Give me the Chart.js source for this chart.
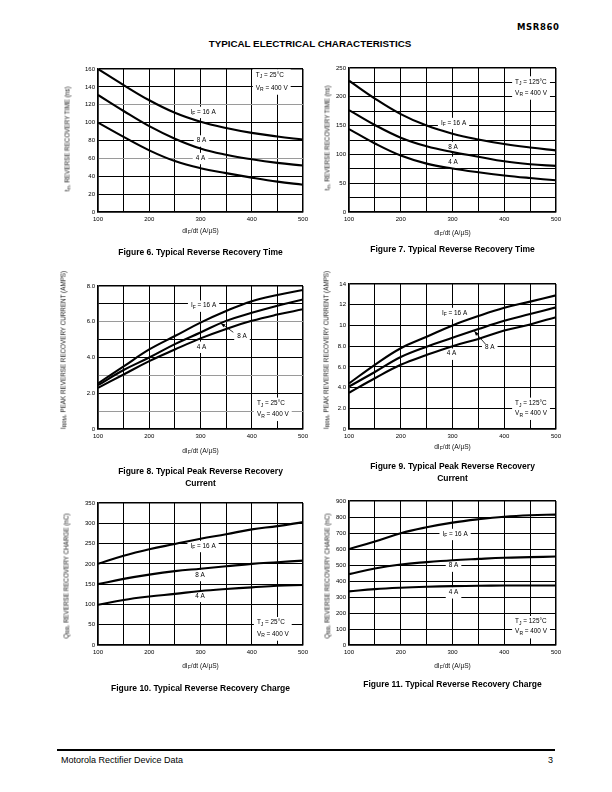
<!DOCTYPE html>
<html>
<head>
<meta charset="utf-8">
<title>MSR860 Typical Electrical Characteristics</title>
<script src="https://cdn.jsdelivr.net/npm/chart.js@4.4.1/dist/chart.umd.min.js"></script>
<style>
  html, body { margin: 0; padding: 0; background: #fff; }
  body { width: 612px; height: 792px; position: relative; overflow: hidden;
         font-family: 'Liberation Sans', Arial, Helvetica, sans-serif; color: #000; }
  .abs { position: absolute; white-space: nowrap; }
  canvas.plot { position: absolute; }
  sub { font-size: 78%; vertical-align: -0.25em; line-height: 0; }
  #part { left: 517px; top: 22px; font-family: 'DejaVu Sans', sans-serif; font-weight: bold;
          font-size: 8.5px; letter-spacing: 0.6px; }
  #heading { left: 310px; top: 38px; transform: translateX(-50%); font-weight: bold; font-size: 9.8px; }
  #rule { position: absolute; left: 57px; top: 749px; width: 498px; height: 2px; background: #000; }
  #foot-left { left: 61px; top: 755px; font-size: 9px; }
  #foot-page { left: 548px; top: 755px; font-size: 9px; }
  .ytitle { position: absolute; font-size: 6.3px; color: #111; white-space: nowrap;
            transform: translate(-50%, -50%) rotate(-90deg); }
  .xtitle { position: absolute; font-size: 6.6px; color: #111; white-space: nowrap;
            transform: translate(-50%, -50%); }
  .caption { position: absolute; font-weight: bold; font-size: 8.5px; line-height: 12px;
             text-align: center; white-space: nowrap; transform: translateX(-50%); }
</style>
</head>
<body>
<div class="abs" id="part">MSR860</div>
<div class="abs" id="heading">TYPICAL ELECTRICAL CHARACTERISTICS</div>
<div id="rule"></div>
<div class="abs" id="foot-left">Motorola Rectifier Device Data</div>
<div class="abs" id="foot-page">3</div>

<script>
// dIF/dt sample points (A/µs), shared by every figure
const diDt = [100, 150, 200, 250, 300, 350, 400, 450, 500];
const xTickLabels = ['100', '200', '300', '400', '500'];

// Fig 6: trr, TJ = 25°C
const trr25If16 = [160, 142, 125, 111, 101, 94, 88.5, 84.5, 81];
const trr25If8 = [131, 113, 96, 82, 71, 64, 59, 55, 52];
const trr25If4 = [100, 84, 69, 57, 49, 43.5, 38.5, 34, 30.5];
const trr25YLabels = ['0', '20', '40', '60', '80', '100', '120', '140', '160'];

// Fig 7: trr, TJ = 125°C
const trr125If16 = [228, 197, 170, 150, 136, 126, 118, 112, 107];
const trr125If8 = [177, 151, 129, 114, 104, 96, 88, 83, 80];
const trr125If4 = [144, 119, 98, 84, 75.5, 69, 63.5, 59, 55];
const trr125YLabels = ['0', '50', '100', '150', '200', '250'];

// Fig 8: IRRM, TJ = 25°C
const irrm25If16 = [2.55, 3.5, 4.45, 5.2, 5.95, 6.6, 7.15, 7.5, 7.78];
const irrm25If8 = [2.45, 3.3, 4.0, 4.75, 5.4, 6.05, 6.5, 6.9, 7.25];
const irrm25If4 = [2.3, 3.05, 3.8, 4.45, 5.07, 5.6, 6.05, 6.4, 6.7];
const irrm25YLabels = ['0', '2.0', '4.0', '6.0', '8.0'];

// Fig 9: IRRM, TJ = 125°C
const irrm125If16 = [4.4, 6.2, 7.8, 8.9, 10.0, 10.9, 11.7, 12.3, 12.9];
const irrm125If8 = [4.1, 5.5, 6.95, 7.95, 8.8, 9.65, 10.45, 11.1, 11.75];
const irrm125If4 = [3.5, 4.9, 6.2, 7.15, 8.0, 8.7, 9.5, 10.1, 10.8];
const irrm125YLabels = ['0', '2.0', '4.0', '6.0', '8.0', '10', '12', '14'];

// Fig 10: QRR, TJ = 25°C
const qrr25If16 = [200, 220, 236, 249, 262, 273, 285, 293, 303];
const qrr25If8 = [150, 163, 173.5, 182, 188, 194, 200, 204, 208];
const qrr25If4 = [99, 111, 119.5, 126, 133, 138, 142, 146, 148];
const qrr25YLabels = ['0', '50', '100', '150', '200', '250', '300', '350'];

// Fig 11: QRR, TJ = 125°C
const qrr125If16 = [599, 647, 699, 736, 765, 786, 802, 811, 815];
const qrr125If8 = [443, 478, 503, 518, 530, 538, 545, 549, 553];
const qrr125If4 = [335, 349, 358, 364, 368, 370, 372, 372, 372];
const qrr125YLabels = ['0', '100', '200', '300', '400', '500', '600', '700', '800', '900'];

const FAMILY = "'Liberation Sans', Arial, Helvetica, sans-serif";
const NOTE_SIZE = 6.4;
const TICK_SIZE = 6;
const X_TITLE = 'dI<sub>F</sub>/dt (A/µS)';
const TRR_TITLE = 't<sub>rr</sub>, REVERSE RECOVERY TIME (ns)';
const IRRM_TITLE = 'I<sub>RRM</sub>, PEAK REVERSE RECOVERY CURRENT (AMPS)';
const QRR_TITLE = 'Q<sub>RR</sub>, REVERSE RECOVERY CHARGE (nC)';

// area = plot box [left, top, right, bottom] on the page
const figures = [
  { area: [98, 69, 303, 212], series: [trr25If16, trr25If8, trr25If4],
    yMax: 160, yStep: 20, yLabels: trr25YLabels, grayRows: [60, 120],
    notes: [['I_F = 16 A', 305, 112], ['8 A', 302, 80], ['4 A', 300, 60.4]],
    cond: ['T_J = 25°C', 'V_R = 400 V', 408, 153.3, 138.7],
    yTitle: TRR_TITLE, yTitleAt: [67, 139], xTitleY: 230,
    caption: 'Figure 6. Typical Reverse Recovery Time', captionY: 252 },
  { area: [349, 68, 556, 212], series: [trr125If16, trr125If8, trr125If4],
    yMax: 250, yStep: 25, yLabels: trr125YLabels, grayRows: [],
    notes: [['I_F = 16 A', 302, 154.5], ['8 A', 301, 113], ['4 A', 301, 87]],
    cond: ['T_J = 125°C', 'V_R = 400 V', 421, 225.7, 206.6],
    yTitle: TRR_TITLE, yTitleAt: [327, 138], xTitleY: 232,
    caption: 'Figure 7. Typical Reverse Recovery Time', captionY: 249 },
  { area: [98, 286, 303, 429], series: [irrm25If16, irrm25If8, irrm25If4],
    yMax: 8, yStep: 1, yLabels: irrm25YLabels, grayRows: [1, 3, 6],
    notes: [['I_F = 16 A', 306, 6.9], ['8 A', 381, 5.2], ['4 A', 302, 4.6]],
    arrow: [364, 5.41, 339.5, 5.92],
    cond: ['T_J = 25°C', 'V_R = 400 V', 410, 1.44, 0.82],
    yTitle: IRRM_TITLE, yTitleAt: [63, 350], xTitleY: 450,
    caption: 'Figure 8. Typical Peak Reverse Recovery<br>Current', captionY: 471 },
  { area: [349, 284, 556, 429], series: [irrm125If16, irrm125If8, irrm125If4],
    yMax: 14, yStep: 2, yLabels: irrm125YLabels, grayRows: [],
    notes: [['I_F = 16 A', 304, 11.2], ['8 A', 372, 7.85], ['4 A', 298, 7.27]],
    arrow: [364, 8.18, 342, 9.46],
    cond: ['T_J = 125°C', 'V_R = 400 V', 421, 2.48, 1.52],
    yTitle: IRRM_TITLE, yTitleAt: [326, 350], xTitleY: 446,
    caption: 'Figure 9. Typical Peak Reverse Recovery<br>Current', captionY: 466 },
  { area: [98, 503, 303, 645], series: [qrr25If16, qrr25If8, qrr25If4],
    yMax: 350, yStep: 50, yLabels: qrr25YLabels, grayRows: [],
    notes: [['I_F = 16 A', 305, 244], ['8 A', 299, 172.5], ['4 A', 299, 121]],
    cond: ['T_J = 25°C', 'V_R = 400 V', 410, 55, 27],
    yTitle: QRR_TITLE, yTitleAt: [66, 576], xTitleY: 665,
    caption: 'Figure 10. Typical Reverse Recovery Charge', captionY: 688 },
  { area: [349, 501, 556, 645], series: [qrr125If16, qrr125If8, qrr125If4],
    yMax: 900, yStep: 100, yLabels: qrr125YLabels, grayRows: [],
    notes: [['I_F = 16 A', 305, 694], ['8 A', 302, 496], ['4 A', 302, 329]],
    cond: ['T_J = 125°C', 'V_R = 400 V', 421, 145.6, 83],
    yTitle: QRR_TITLE, yTitleAt: [327, 576], xTitleY: 665,
    caption: 'Figure 11. Typical Reverse Recovery Charge', captionY: 684 }
];

// 'I_F' -> I with subscript F
function segments(str) {
  const out = [];
  let buf = '';
  for (let i = 0; i < str.length; i++) {
    if (str[i] === '_') {
      if (buf) out.push({ t: buf, sub: false });
      buf = '';
      out.push({ t: str[i + 1], sub: true });
      i++;
    } else {
      buf += str[i];
    }
  }
  if (buf) out.push({ t: buf, sub: false });
  return out;
}

function richWidth(ctx, str, size) {
  let w = 0;
  segments(str).forEach(s => {
    ctx.font = (s.sub ? size * 0.78 : size) + 'px ' + FAMILY;
    w += ctx.measureText(s.t).width;
  });
  return w;
}

function drawRich(ctx, str, x, y, size) {
  ctx.textBaseline = 'middle';
  ctx.textAlign = 'left';
  ctx.fillStyle = '#000';
  segments(str).forEach(s => {
    ctx.font = (s.sub ? size * 0.78 : size) + 'px ' + FAMILY;
    ctx.fillText(s.t, x, s.sub ? y + size * 0.3 : y);
    x += ctx.measureText(s.t).width;
  });
}

function notesPlugin(fig) {
  return {
    id: 'notes',
    beforeDatasetsDraw(chart) {
      const ctx = chart.ctx;
      const xs = chart.scales.x, ys = chart.scales.y;
      ctx.save();
      fig.notes.forEach(([text, x, y]) => {
        const px = xs.getPixelForValue(x), py = ys.getPixelForValue(y);
        const w = richWidth(ctx, text, NOTE_SIZE);
        ctx.fillStyle = '#fff';
        ctx.fillRect(px - w / 2 - 3, py - NOTE_SIZE / 2 - 2, w + 6, NOTE_SIZE + 5);
        drawRich(ctx, text, px - w / 2, py, NOTE_SIZE);
      });
      const [l1, l2, cx, cy1, cy2] = fig.cond;
      const px = xs.getPixelForValue(cx);
      const py1 = ys.getPixelForValue(cy1), py2 = ys.getPixelForValue(cy2);
      const w = Math.max(richWidth(ctx, l1, NOTE_SIZE), richWidth(ctx, l2, NOTE_SIZE));
      ctx.fillStyle = '#fff';
      ctx.fillRect(px - 3, py1 - NOTE_SIZE / 2 - 2.5, w + 6, py2 - py1 + NOTE_SIZE + 6);
      drawRich(ctx, l1, px, py1, NOTE_SIZE);
      drawRich(ctx, l2, px, py2, NOTE_SIZE);
      ctx.restore();
    },
    afterDatasetsDraw(chart) {
      if (!fig.arrow) return;
      const ctx = chart.ctx;
      const xs = chart.scales.x, ys = chart.scales.y;
      const [x0, y0, x1, y1] = fig.arrow;
      const ax = xs.getPixelForValue(x0), ay = ys.getPixelForValue(y0);
      const bx = xs.getPixelForValue(x1), by = ys.getPixelForValue(y1);
      const ang = Math.atan2(by - ay, bx - ax);
      ctx.save();
      ctx.strokeStyle = '#000';
      ctx.fillStyle = '#000';
      ctx.lineWidth = 0.8;
      ctx.beginPath();
      ctx.moveTo(ax, ay);
      ctx.lineTo(bx, by);
      ctx.stroke();
      ctx.beginPath();
      ctx.moveTo(bx, by);
      ctx.lineTo(bx - 5 * Math.cos(ang - 0.35), by - 5 * Math.sin(ang - 0.35));
      ctx.lineTo(bx - 5 * Math.cos(ang + 0.35), by - 5 * Math.sin(ang + 0.35));
      ctx.closePath();
      ctx.fill();
      ctx.restore();
    }
  };
}

function addText(cls, html, x, y) {
  const el = document.createElement('div');
  el.className = cls;
  el.innerHTML = html;
  el.style.left = x + 'px';
  el.style.top = y + 'px';
  document.body.appendChild(el);
  return el;
}

function makeFigure(fig) {
  const [L, T, R, B] = fig.area;
  const canvas = document.createElement('canvas');
  canvas.className = 'plot';
  canvas.width = R - L + 52;
  canvas.height = B - T + 26;
  canvas.style.left = (L - 40) + 'px';
  canvas.style.top = (T - 8) + 'px';
  document.body.appendChild(canvas);

  const labelFor = list => v => {
    const t = list.find(s => parseFloat(s) === v);
    return t === undefined ? '' : t;
  };

  new Chart(canvas, {
    type: 'line',
    data: {
      datasets: fig.series.map(s => ({
        data: diDt.map((x, i) => ({ x: x, y: s[i] })),
        borderColor: '#000',
        borderWidth: 2.1,
        pointRadius: 0,
        fill: false,
        tension: 0.4
      }))
    },
    options: {
      responsive: false,
      animation: false,
      layout: { padding: { left: 0, top: 8, right: 12, bottom: 0 } },
      plugins: { legend: { display: false }, tooltip: { enabled: false } },
      scales: {
        x: {
          type: 'linear', min: 100, max: 500,
          afterFit: s => { s.height = 18; },
          border: { color: '#000', width: 1.5 },
          grid: {
            drawTicks: false,
            color: '#000',
            lineWidth: c => (c.tick && (c.tick.value === 100 || c.tick.value === 500)) ? 1.5 : 1
          },
          ticks: {
            stepSize: 50, padding: 4, autoSkip: false, maxRotation: 0,
            color: '#000', font: { size: TICK_SIZE, family: FAMILY },
            callback: labelFor(xTickLabels)
          }
        },
        y: {
          type: 'linear', min: 0, max: fig.yMax,
          afterFit: s => { s.width = 40; },
          border: { color: '#000', width: 1.5 },
          grid: {
            drawTicks: false,
            color: c => (c.tick && fig.grayRows.includes(c.tick.value)) ? '#9a9a9a' : '#000',
            lineWidth: c => (c.tick && (c.tick.value === 0 || c.tick.value === fig.yMax)) ? 1.5 : 1
          },
          ticks: {
            stepSize: fig.yStep, padding: 3, autoSkip: false,
            color: '#000', font: { size: TICK_SIZE, family: FAMILY },
            callback: labelFor(fig.yLabels)
          }
        }
      }
    },
    plugins: [notesPlugin(fig)]
  });

  addText('ytitle', fig.yTitle, fig.yTitleAt[0], fig.yTitleAt[1]);
  addText('xtitle', X_TITLE, (L + R) / 2, fig.xTitleY);
  addText('caption', fig.caption, (L + R) / 2, fig.captionY - 6);
}

figures.forEach(makeFigure);
</script>
</body>
</html>
